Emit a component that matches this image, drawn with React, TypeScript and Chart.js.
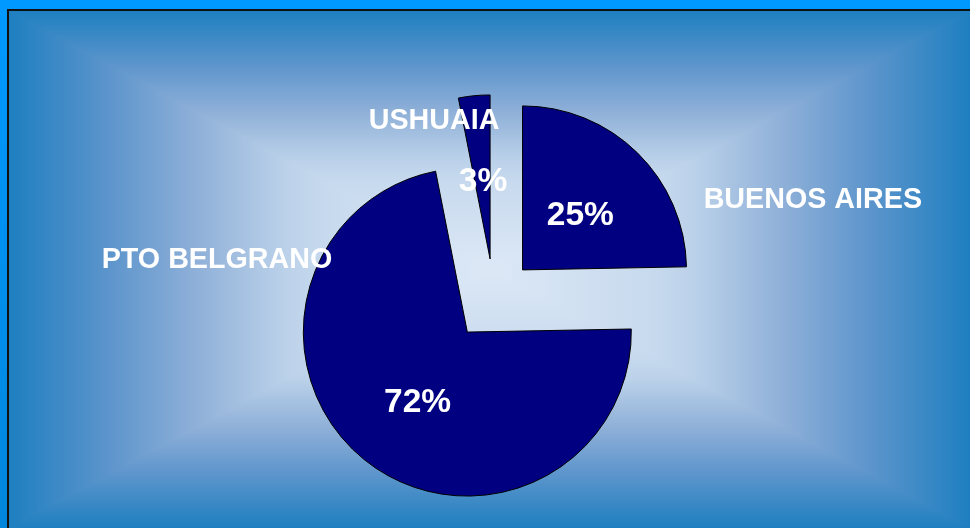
import React, { useEffect, useRef } from 'react';
import { Chart, registerables } from 'chart.js';

Chart.register(...registerables);

// ---- data ----
const categories = ['BUENOS AIRES', 'PTO BELGRANO', 'USHUAIA'];
const shares = [24.7, 72.2, 3.1];
const explode = [163, 170, 161];

// ---- label placement (radius factor, angle shift in degrees from slice mid-angle) ----
const nameFactor = [1.824, 1.592, 0.919];
const nameShift = [31.57, 67.63, -16.25];
const valueFactor = [0.496, 0.512, 0.49];
const valueShift = [0.8, -2.55, 0.55];

const W = 970;
const H = 528;

const bgPlugin = {
  id: 'bgFrame',
  beforeDraw(chart: any) {
    const ctx = chart.ctx as CanvasRenderingContext2D;
    const w = chart.width, h = chart.height;
    ctx.save();
    const og = ctx.createLinearGradient(0, 0, 0, h);
    og.addColorStop(0, '#0099ff');
    og.addColorStop(1, '#0086dc');
    ctx.fillStyle = og;
    ctx.fillRect(0, 0, w, h);
    ctx.fillStyle = '#111111';
    ctx.fillRect(7, 9, w - 7, h - 9);

    const L = 9, T = 11, R = w, B = h;
    const cx = (L + R) / 2, cy = (T + B) / 2;
    const stops: [number, string][] = [
      [0, '#1e7fc0'], [0.21, '#5d95cc'], [0.39, '#8fb0d8'],
      [0.58, '#bcd2ea'], [0.67, '#c8daee'], [1, '#dce8f6'],
    ];
    const vg = ctx.createLinearGradient(0, T, 0, B);
    const hg = ctx.createLinearGradient(L, 0, R, 0);
    for (const [f, c] of stops) {
      vg.addColorStop(f / 2, c);
      hg.addColorStop(f / 2, c);
    }
    for (let k = stops.length - 1; k >= 0; k--) {
      const [f, c] = stops[k];
      if (f < 1) {
        vg.addColorStop(1 - f / 2, c);
        hg.addColorStop(1 - f / 2, c);
      }
    }
    ctx.fillStyle = vg;
    ctx.fillRect(L, T, R - L, B - T);
    ctx.fillStyle = hg;
    ctx.beginPath();
    ctx.moveTo(L, T); ctx.lineTo(cx, cy); ctx.lineTo(L, B); ctx.closePath();
    ctx.moveTo(R, T); ctx.lineTo(cx, cy); ctx.lineTo(R, B); ctx.closePath();
    ctx.fill();
    ctx.restore();
  },
};

// keep every exploded slice at the same visible radius and its true angular size
const radiusFixPlugin = {
  id: 'radiusFix',
  beforeDatasetDraw(chart: any, args: any) {
    const meta = args.meta;
    const base = meta.controller.outerRadius;
    meta.data.forEach((arc: any) => {
      if (arc.$baseStart === undefined) {
        arc.$baseStart = arc.startAngle;
        arc.$baseEnd = arc.endAngle;
      }
      const off = ((arc.options && arc.options.offset) || 0) / 4;
      const circ = arc.$baseEnd - arc.$baseStart;
      const fix = 1 - Math.sin(Math.min(Math.PI, circ || 0));
      const radiusOffset = off * fix;
      arc.outerRadius = base - radiusOffset;
      const grow = radiusOffset / (Math.PI * base) / 2;
      arc.startAngle = arc.$baseStart - grow;
      arc.endAngle = arc.$baseEnd + grow;
    });
  },
};

const labelPlugin = {
  id: 'sliceLabels',
  afterDatasetsDraw(chart: any) {
    const ctx = chart.ctx as CanvasRenderingContext2D;
    const meta = chart.getDatasetMeta(0);
    const R = meta.controller.outerRadius;
    const total = shares.reduce((a, b) => a + b, 0);
    ctx.save();
    ctx.fillStyle = '#ffffff';
    ctx.textAlign = 'center';
    ctx.textBaseline = 'alphabetic';
    meta.data.forEach((arc: any, i: number) => {
      const mid = (arc.startAngle + arc.endAngle) / 2;
      const t = ((arc.options && arc.options.offset) || 0) / 4;
      const ax = arc.x + Math.cos(mid) * t;
      const ay = arc.y + Math.sin(mid) * t;
      const put = (text: string, f: number, shiftDeg: number, size: number) => {
        const a = mid + (shiftDeg * Math.PI) / 180;
        const x = ax + Math.cos(a) * f * R;
        const y = ay + Math.sin(a) * f * R;
        ctx.font = `bold ${size}px "Liberation Sans", Arial, sans-serif`;
        ctx.fillText(text, x, y + 0.358 * size);
      };
      put(categories[i], nameFactor[i], nameShift[i], 28.7);
      put(`${Math.round((shares[i] / total) * 100)}%`, valueFactor[i], valueShift[i], 33.5);
    });
    ctx.restore();
  },
};

export default function App() {
  const ref = useRef<HTMLCanvasElement | null>(null);
  useEffect(() => {
    if (!ref.current) return;
    const chart = new Chart(ref.current, {
      type: 'pie',
      data: {
        labels: categories,
        datasets: [
          {
            data: shares,
            backgroundColor: '#000080',
            borderColor: '#000000',
            borderWidth: 1,
            offset: explode,
            radius: 164,
          } as any,
        ],
      },
      options: {
        responsive: false,
        animation: false,
        events: [],
        rotation: 0,
        layout: { padding: { left: 18, right: 0, top: 70, bottom: 0 } },
        plugins: {
          legend: { display: false },
          tooltip: { enabled: false },
        },
      } as any,
      plugins: [bgPlugin, radiusFixPlugin, labelPlugin],
    });
    return () => chart.destroy();
  }, []);
  return (
    <div style={{ position: 'fixed', left: 0, top: 0, width: W, height: H, overflow: 'hidden' }}>
      <canvas ref={ref} width={W} height={H} style={{ display: 'block', width: W, height: H }} />
    </div>
  );
}
